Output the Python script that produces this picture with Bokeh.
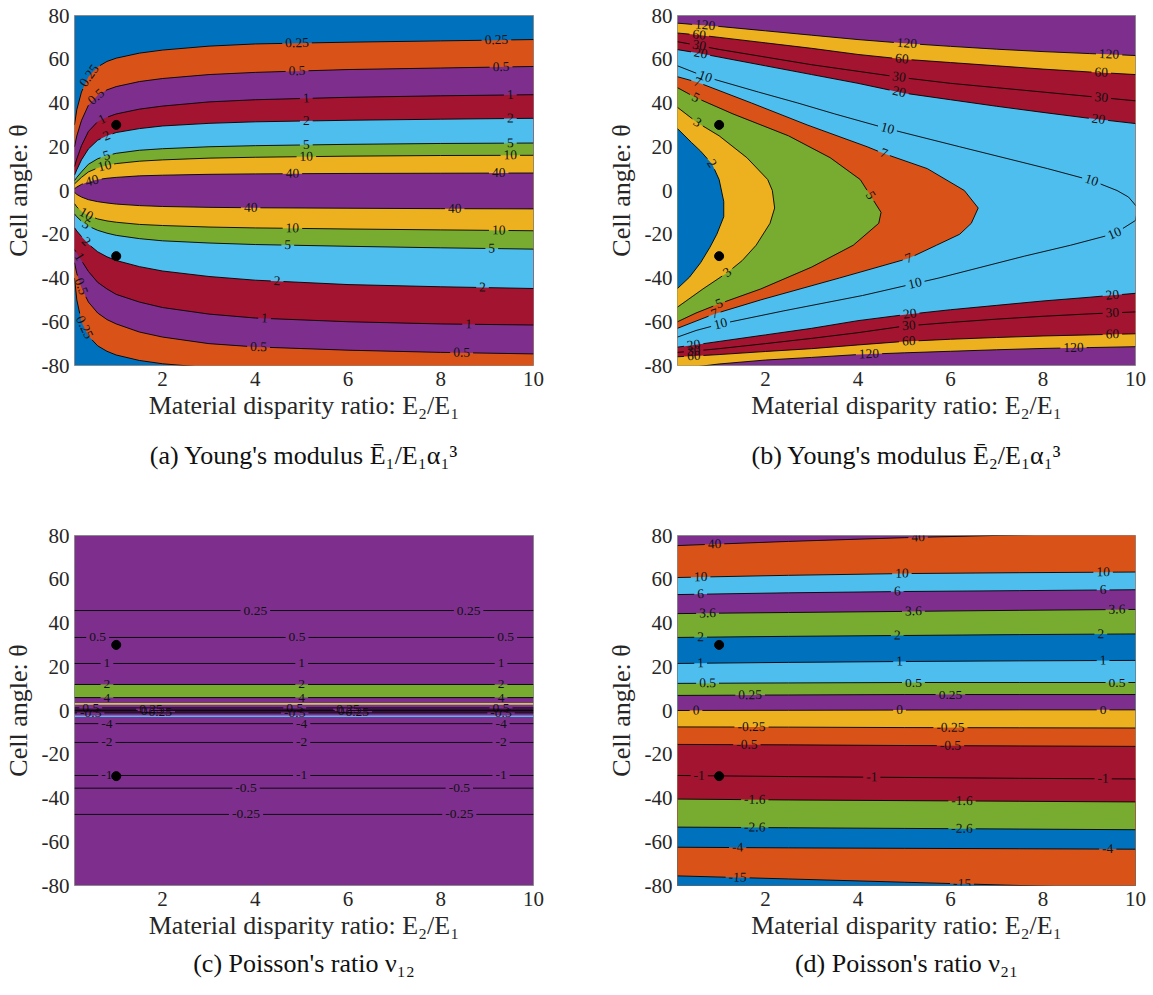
import numpy as np
from bokeh.plotting import figure
from bokeh.models import Range1d, FixedTicker, Title
from bokeh.layouts import column, row
from bokeh.embed import file_html
from bokeh.resources import INLINE
from bokeh.core.properties import value

BLUE = "#0072BD"; ORANGE = "#D95319"; YELLOW = "#EDB120"; PURPLE = "#7E2F8E"
GREEN = "#77AC30"; LBLUE = "#4DBEEE"; RED = "#A2142F"; YGREEN = "#C3CF4A"
SERIF = "Liberation Serif"

X_MIN, X_MAX = 0.1, 10.0
Y_MIN, Y_MAX = -80.0, 80.0
X_TICKS = [2, 4, 6, 8, 10]
Y_TICKS = [-80, -60, -40, -20, 0, 20, 40, 60, 80]
X_LABEL = "Material disparity ratio: E\u2082/E\u2081"
Y_LABEL = "Cell angle: \u03b8"
DOT_X = [1, 1]
DOT_Y = [30, -30]
FRAME_H = 350

# ---------------- (a) Young's modulus E1 ----------------
A_X = [0.1, 0.15, 0.25, 0.4, 0.6, 0.8, 1.0, 1.5, 2, 3, 4, 6, 8, 10]
A_UP_025 = [30, 37, 45, 52, 56.5, 59, 60.5, 62.8, 64.2, 66, 67, 67.8, 68.4, 69]
A_UP_05 = [20, 25, 32, 39, 43.5, 46, 47.5, 49.8, 51.2, 53, 54, 55.3, 56, 56.7]
A_UP_1 = [11, 14.5, 20.5, 27, 31.5, 33.5, 35, 37.2, 38.6, 40.5, 41.5, 42.6, 43.3, 43.8]
A_UP_2 = [7, 9.5, 14, 19, 23, 25, 26.5, 28.3, 29.5, 30.7, 31.4, 32.1, 32.6, 33]
A_UP_5 = [4.5, 6, 8.5, 12, 14.5, 16, 17, 18.4, 19.1, 20, 20.5, 21.1, 21.5, 21.7]
A_UP_10 = [3, 4, 6, 8.5, 10.3, 11.5, 12.3, 13.4, 14, 14.8, 15.2, 15.7, 16, 16.1]
A_UP_40 = [0.8, 1.6, 2.8, 4, 5, 5.6, 6, 6.7, 7, 7.4, 7.6, 7.8, 7.9, 8]
A_LO_40 = [-0.8, -1.8, -3.0, -4.2, -5.1, -5.7, -6.2, -6.9, -7.3, -7.7, -7.9, -8.1, -8.3, -8.4]
A_LO_10 = [-6, -7.5, -9.5, -11.5, -13, -13.9, -14.5, -15.5, -16, -16.7, -17.1, -17.6, -18, -18.4]
A_LO_5 = [-10.7, -12, -14, -16.3, -18.2, -19.5, -20.5, -22, -23, -24, -24.7, -25.5, -26.2, -26.8]
A_LO_2 = [-17, -18.5, -21, -24.5, -28, -30.3, -32, -34.8, -36.8, -39.3, -41, -43, -44, -44.8]
A_LO_1 = [-27, -28.8, -32, -37, -42, -45, -47.5, -51, -53.5, -56.5, -58.3, -60, -61, -61.5]
A_LO_05 = [-33, -38, -44.5, -51, -56, -59, -61, -64.7, -67, -70, -71.5, -73, -74, -74.7]
A_LO_025 = [-40, -50, -60, -66.5, -71, -73.5, -75.2, -77.7, -79.2, -81, -82, -83, -84, -84.5]
A_LEVELS = ["0.25", "0.5", "1", "2", "5", "10", "40"]
A_BAND_COLORS = [ORANGE, PURPLE, RED, LBLUE, GREEN, YELLOW, PURPLE]
A_BG = BLUE
A_UP_LABEL_X = [[0.42, 4.9, 9.2], [0.57, 4.9, 9.3], [0.7, 5.1, 9.5], [0.79, 5.1, 9.5],
                [0.79, 5.1, 9.5], [0.75, 5.1, 9.5], [0.48, 4.8, 9.25]]
A_LO_LABEL_X = [[0.31], [0.24, 4.07, 8.45], [0.2, 4.2, 8.6], [0.35, 4.47, 8.9],
                [0.35, 4.7, 9.1], [0.35, 4.8, 9.25], [3.9, 8.3]]

# ---------------- (b) Young's modulus E2 ----------------
B_X = [0.1, 0.5, 1, 2, 3, 4, 5, 6, 7, 8, 9, 10]
B_UP_120 = [76.5, 75.8, 75, 73, 71, 69, 67.3, 65.9, 64.6, 63.5, 62.6, 61.7]
B_UP_60 = [72, 71.2, 70, 67.5, 65, 62.2, 60, 58.5, 57, 55.5, 54.2, 53]
B_UP_30 = [68, 66.5, 64.5, 61, 57.5, 54.5, 51.5, 49, 47, 45, 43, 41]
B_UP_20 = [64.4, 63, 61, 57, 53, 49, 44.5, 41.5, 38.5, 35.7, 33, 30.6]
B_LO_20 = [-71.6, -70.5, -69, -66, -63, -59.5, -56.8, -54.5, -52.5, -50.5, -48.8, -47]
B_LO_30 = [-74, -73.3, -72.3, -70, -67.6, -65, -62, -60.3, -58.8, -57.5, -56.4, -55.5]
B_LO_60 = [-76, -75.6, -75, -73.6, -72.3, -70.6, -69, -68, -67.2, -66.5, -66, -65.5]
B_LO_120 = [-82, -80.6, -79.3, -77.5, -76.3, -75, -74.2, -73.5, -72.8, -72.2, -71.8, -71.4]
B_C10_Y = [57, 52, 45, 40, 35, 28.5, 20, 10, 4.6, 0, -3, -8, -13.7, -19.7, -25, -30, -40, -48, -55, -61, -64, -67]
B_C10_X = [0.1, 0.7, 1.85, 2.7, 3.5, 4.6, 6.2, 8.1, 9.05, 9.6, 9.85, 10.05, 10.0, 9.55, 8.6, 7.6, 5.75, 4.1, 2.4, 1.03, 0.5, 0.1]
B_C7_Y = [52, 49.5, 40, 30, 20, 16.9, 10, 0, -8, -15, -20, -25, -31, -40, -50, -56.4, -63]
B_C7_X = [0.1, 0.53, 1.7, 2.9, 4.2, 4.56, 5.5, 6.3, 6.6, 6.45, 6.2, 5.7, 5.1, 3.6, 1.9, 0.9, 0.1]
B_C5_Y = [47, 42.5, 35, 25, 15, 5, -2.3, -10, -15, -25, -35, -45, -51.8, -56, -60]
B_C5_X = [0.1, 0.49, 1.3, 2.5, 3.4, 4.05, 4.27, 4.5, 4.45, 3.9, 3.0, 1.9, 1.0, 0.5, 0.1]
B_C3_Y = [38, 31, 25, 15, 5, 0, -8, -15, -25, -32, -37.5, -45, -53.3]
B_C3_X = [0.1, 0.53, 1.0, 1.6, 2.05, 2.15, 2.2, 2.1, 1.8, 1.5, 1.18, 0.65, 0.1]
B_C2_Y = [28.3, 22, 18, 12, 5, -5, -12, -20, -26, -33, -39.6, -44.8]
B_C2_X = [0.1, 0.4, 0.6, 0.85, 1.0, 1.1, 1.1, 0.95, 0.8, 0.6, 0.36, 0.1]
B_BG = PURPLE

# ---------------- (c) Poisson's ratio nu12 ----------------
C_X = [0.1, 10]
C_LEVELS = ["0.25", "0.5", "1", "2", "4", "-4", "-2", "-1", "-0.5", "-0.25"]
C_LINES = [[45.7, 45.7], [33.4, 33.4], [21.5, 21.5], [11.9, 11.9], [5.9, 5.9],
           [-6.0, -6.0], [-14.6, -14.6], [-29.7, -29.7], [-35.5, -35.5], [-47.5, -47.5]]
C_LABEL_X = [[4.0, 8.6], [0.6, 4.9, 9.4], [0.8, 5.0, 9.3], [0.8, 5.0, 9.3], [0.8, 5.0, 9.3],
             [0.8, 5.0, 9.3], [0.8, 5.0, 9.3], [0.8, 5.0, 9.3], [3.8, 8.4], [3.8, 8.4]]
C_GREEN_TOP = [11.9, 11.9]
C_GREEN_BOT = [5.9, 5.9]
C_YG_TOP = [3.4, 3.4]
C_YG_BOT = [2.6, 2.6]
C_BL_TOP = [-2.3, -2.3]
C_BL_BOT = [-3.0, -3.0]
C_ZERO_LEVELS = ["0.5", "0.25", "0", "-0.25", "-0.5"]
C_ZERO_LINES = [[1.2, 1.2], [0.6, 0.6], [0.0, 0.0], [-0.6, -0.6], [-1.1, -1.1]]
C_ZERO_LABEL_X = [[0.45, 4.85, 9.3], [1.75, 6.0], [1.6, 5.85], [1.9, 6.15], [0.45, 4.85, 9.3]]
C_BG = PURPLE

# ---------------- (d) Poisson's ratio nu21 ----------------
D_X = [0.1, 2.5, 5, 7.5, 10]
D_LEVELS = ["40", "10", "6", "3.6", "2", "1", "0.5", "0.25", "0", "-0.25", "-0.5", "-1", "-1.6", "-2.6", "-4", "-15"]
D_LINES = [
    [75.4, 77.3, 79.0, 80.3, 81.5],
    [60.8, 61.8, 62.6, 63.0, 63.3],
    [53.0, 53.8, 54.4, 54.8, 55.2],
    [44.3, 44.8, 45.3, 45.8, 46.2],
    [33.4, 33.9, 34.3, 34.7, 35.0],
    [21.5, 22.0, 22.4, 22.7, 22.9],
    [12.4, 12.6, 12.8, 12.8, 12.8],
    [6.9, 7.1, 7.3, 7.3, 7.3],
    [0.0, 0.1, 0.2, 0.3, 0.3],
    [-7.5, -7.6, -7.8, -7.9, -8.0],
    [-15.5, -15.7, -16.0, -16.2, -16.4],
    [-29.7, -30.2, -30.6, -31.0, -31.3],
    [-40.5, -40.9, -41.2, -41.5, -41.8],
    [-53.3, -53.6, -53.9, -54.2, -54.5],
    [-62.5, -62.8, -63.0, -63.2, -63.4],
    [-75.6, -77.0, -78.5, -80.0, -81.5],
]
D_BELOW_COLORS = [ORANGE, LBLUE, PURPLE, GREEN, BLUE, LBLUE, GREEN, PURPLE, YELLOW,
                  ORANGE, RED, RED, GREEN, BLUE, ORANGE, BLUE]
D_LABEL_X = [[0.9, 5.3], [0.6, 4.95, 9.3], [0.6, 4.85, 9.3], [0.75, 5.2, 9.6], [0.6, 4.85, 9.25],
             [0.6, 4.9, 9.3], [0.75, 5.2, 9.6], [1.67, 6.0], [0.5, 4.9, 9.3], [1.7, 6.0],
             [1.6, 6.0], [0.57, 4.3, 9.3], [1.77, 6.25], [1.77, 6.25], [1.4, 9.4], [1.4, 6.25]]
D_BG = PURPLE

CAPTIONS = ["(a) Young's modulus \u0112\u2081/E\u2081\u03b1\u2081\u00b3",
            "(b) Young's modulus \u0112\u2082/E\u2081\u03b1\u2081\u00b3",
            "(c) Poisson's ratio \u03bd\u2081\u2082",
            "(d) Poisson's ratio \u03bd\u2082\u2081"]

LABEL_FS = 13.5
CHAR_W = {".": 0.25, "-": 0.333}


def text_w(t, fs):
    return fs * sum(CHAR_W.get(c, 0.5) for c in t)


def add_contour(p, fw, xs, ys, text, label_params, param="x"):
    xs = np.asarray(xs, float)
    ys = np.asarray(ys, float)
    kx = fw / (X_MAX - X_MIN)
    ky = FRAME_H / (Y_MAX - Y_MIN)
    sx = xs * kx
    sy = ys * ky
    s = np.concatenate([[0.0], np.cumsum(np.hypot(np.diff(sx), np.diff(sy)))])
    half = text_w(text, LABEL_FS) / 2 + 3
    gaps, lx, ly, la, lt = [], [], [], [], []
    for t in label_params:
        sl = np.interp(t, xs, s) if param == "x" else np.interp(-t, -ys, s)
        gaps.append((sl - half, sl + half))
        lx.append(float(np.interp(sl, s, xs)))
        ly.append(float(np.interp(sl, s, ys)))
        x1 = np.interp(sl - 6, s, sx); y1 = np.interp(sl - 6, s, sy)
        x2 = np.interp(sl + 6, s, sx); y2 = np.interp(sl + 6, s, sy)
        a = float(np.arctan2(y2 - y1, x2 - x1))
        if a > np.pi / 2:
            a -= np.pi
        elif a < -np.pi / 2:
            a += np.pi
        la.append(a)
        lt.append(text)
    extra = []
    for g0, g1 in gaps:
        extra += [g0, g1, 0.5 * (g0 + g1)]
    s_all = np.unique(np.concatenate([s, [e for e in extra if 0 < e < s[-1]]]))
    segs, cur = [], []
    for v in s_all:
        if any(g0 < v < g1 for g0, g1 in gaps):
            if len(cur) > 1:
                segs.append(cur)
            cur = []
        else:
            cur.append(v)
    if len(cur) > 1:
        segs.append(cur)
    p.multi_line(xs=[list(np.interp(g, s, xs)) for g in segs],
                 ys=[list(np.interp(g, s, ys)) for g in segs],
                 line_color="black", line_width=0.9)
    if lt:
        p.text(x=lx, y=ly, text=lt, angle=la, text_align="center", text_baseline="middle",
               text_font=value(SERIF), text_font_size=value(f"{LABEL_FS}px"), text_color="#111111")


def make_fig(left, right, bottom, fw, caption, cap_standoff, bg):
    p = figure(frame_width=fw, frame_height=FRAME_H,
               x_range=Range1d(X_MIN, X_MAX), y_range=Range1d(Y_MIN, Y_MAX),
               output_backend="svg", toolbar_location=None,
               min_border_left=left, min_border_right=right, min_border_top=15,
               min_border_bottom=bottom, background_fill_color=bg, border_fill_color="white")
    p.title.visible = False
    p.grid.visible = False
    p.outline_line_color = "#8a8a8a"
    p.outline_line_width = 1
    p.xaxis.ticker = FixedTicker(ticks=X_TICKS)
    p.yaxis.ticker = FixedTicker(ticks=Y_TICKS)
    p.xaxis.major_label_overrides = {t: str(t) for t in X_TICKS}
    p.yaxis.major_label_overrides = {t: str(t) for t in Y_TICKS}
    p.xaxis.axis_label = X_LABEL
    p.yaxis.axis_label = Y_LABEL
    for ax in (p.xaxis[0], p.yaxis[0]):
        ax.axis_line_color = None
        ax.major_tick_in = 0
        ax.major_tick_out = 0
        ax.minor_tick_line_color = None
        ax.major_label_text_font = SERIF
        ax.major_label_text_font_size = "21px"
        ax.major_label_text_color = "#262626"
        ax.axis_label_text_font = SERIF
        ax.axis_label_text_font_size = "26px"
        ax.axis_label_text_font_style = "normal"
        ax.axis_label_text_color = "#262626"
    p.xaxis.major_label_standoff = 6
    p.yaxis.major_label_standoff = 5
    p.xaxis.axis_label_standoff = 2
    p.yaxis.axis_label_standoff = 6
    cap = Title(text=caption, align="center", text_font=SERIF, text_font_size="26px",
                text_font_style="normal", text_color="#111111", standoff=cap_standoff)
    p.add_layout(cap, "below")
    return p


def add_dots(p):
    p.scatter(x=DOT_X, y=DOT_Y, size=9, color="black")


FW_L, FW_R = 459, 458

# ---- panel (a)
pa = make_fig(73, 48, 155, FW_L, CAPTIONS[0], 33, A_BG)
a_up = [A_UP_025, A_UP_05, A_UP_1, A_UP_2, A_UP_5, A_UP_10, A_UP_40]
a_lo = [A_LO_025, A_LO_05, A_LO_1, A_LO_2, A_LO_5, A_LO_10, A_LO_40]
for up, lo, col in zip(a_up, a_lo, A_BAND_COLORS):
    pa.varea(x=A_X, y1=lo, y2=up, fill_color=col)
for lev, up, lo, ux, lx_ in zip(A_LEVELS, a_up, a_lo, A_UP_LABEL_X, A_LO_LABEL_X):
    add_contour(pa, FW_L, A_X, up, lev, ux)
    add_contour(pa, FW_L, A_X, lo, lev, lx_)
add_dots(pa)

# ---- panel (b)
pb = make_fig(96, 19, 155, FW_R, CAPTIONS[1], 33, B_BG)
pb.varea(x=B_X, y1=B_LO_120, y2=B_UP_120, fill_color=YELLOW)
pb.varea(x=B_X, y1=B_LO_60, y2=B_UP_60, fill_color=RED)
pb.varea(x=B_X, y1=B_LO_20, y2=B_UP_20, fill_color=LBLUE)
for cx, cy, col in [(B_C7_X, B_C7_Y, ORANGE), (B_C5_X, B_C5_Y, GREEN),
                    (B_C3_X, B_C3_Y, YELLOW), (B_C2_X, B_C2_Y, BLUE)]:
    pb.patch(x=list(cx) + [-1, -1], y=list(cy) + [cy[-1], cy[0]], fill_color=col, line_color=None)
add_contour(pb, FW_R, B_X, B_UP_120, "120", [0.7, 5.06, 9.43])
add_contour(pb, FW_R, B_X, B_UP_60, "60", [0.57, 4.95, 9.26])
add_contour(pb, FW_R, B_X, B_UP_30, "30", [0.57, 4.89, 9.26])
add_contour(pb, FW_R, B_X, B_UP_20, "20", [0.6, 4.89, 9.2])
add_contour(pb, FW_R, B_X, B_LO_20, "20", [0.45, 5.12, 9.5])
add_contour(pb, FW_R, B_X, B_LO_30, "30", [0.45, 5.1, 9.5])
add_contour(pb, FW_R, B_X, B_LO_60, "60", [0.45, 5.1, 9.5])
add_contour(pb, FW_R, B_X, B_LO_120, "120", [4.24, 8.66])
add_contour(pb, FW_R, B_C10_X, B_C10_Y, "10", [52, 28.3, 4.6, -19.7, -42.5, -61], param="y")
add_contour(pb, FW_R, B_C7_X, B_C7_Y, "7", [49.5, 16.9, -31, -56.4], param="y")
add_contour(pb, FW_R, B_C5_X, B_C5_Y, "5", [42.5, -2.3, -51.8], param="y")
add_contour(pb, FW_R, B_C3_X, B_C3_Y, "3", [31, -37.5], param="y")
add_contour(pb, FW_R, B_C2_X, B_C2_Y, "2", [12.3], param="y")
add_dots(pb)

# ---- panel (c)
pc = make_fig(73, 48, 110, FW_L, CAPTIONS[2], 9, C_BG)
pc.varea(x=C_X, y1=C_GREEN_BOT, y2=C_GREEN_TOP, fill_color=GREEN)
pc.varea(x=C_X, y1=C_YG_BOT, y2=C_YG_TOP, fill_color=YGREEN)
pc.varea(x=C_X, y1=C_BL_BOT, y2=C_BL_TOP, fill_color=LBLUE)
for lev, ln, lxs in zip(C_LEVELS, C_LINES, C_LABEL_X):
    add_contour(pc, FW_L, C_X, ln, lev, lxs)
for lev, ln, lxs in zip(C_ZERO_LEVELS, C_ZERO_LINES, C_ZERO_LABEL_X):
    add_contour(pc, FW_L, C_X, ln, lev, lxs)
add_dots(pc)

# ---- panel (d)
pd_ = make_fig(96, 19, 110, FW_R, CAPTIONS[3], 9, D_BG)
for ln, col in zip(D_LINES, D_BELOW_COLORS):
    pd_.varea(x=D_X, y1=[-100] * len(D_X), y2=ln, fill_color=col)
for lev, ln, lxs in zip(D_LEVELS, D_LINES, D_LABEL_X):
    add_contour(pd_, FW_R, D_X, ln, lev, lxs)
add_dots(pd_)

layout = column(row(pa, pb), row(pc, pd_))
open("out.html", "w").write(file_html(layout, INLINE))
